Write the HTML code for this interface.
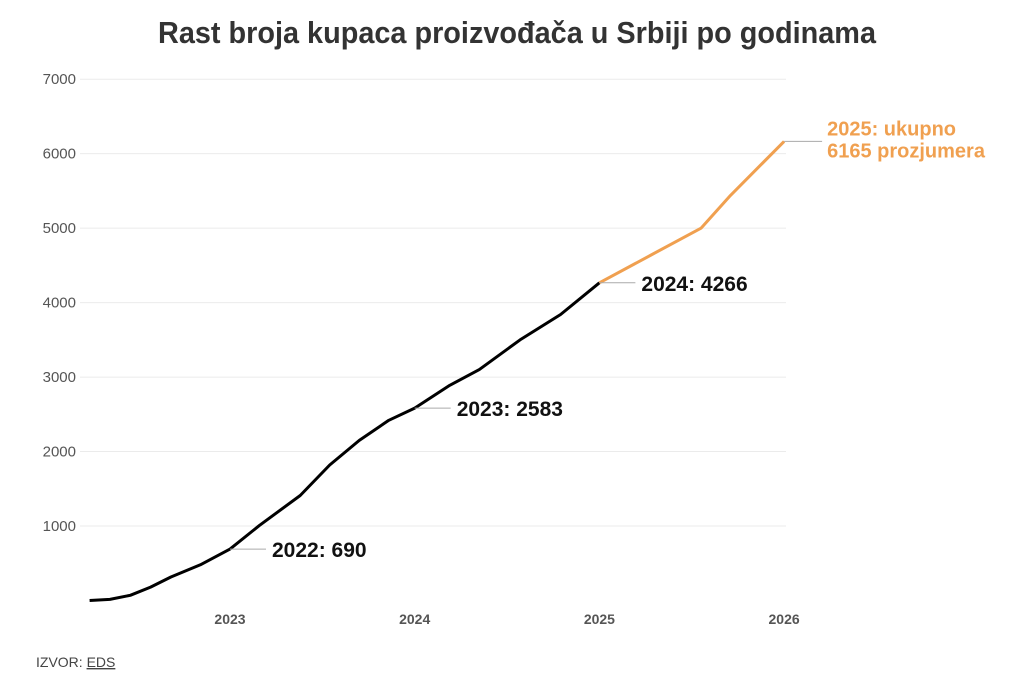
<!DOCTYPE html>
<html><head><meta charset="utf-8"><style>
body{margin:0;background:#fff;width:1024px;height:683px;overflow:hidden;font-family:"Liberation Sans Narrow","Liberation Sans",sans-serif;}
svg{display:block}
</style></head><body>
<svg width="1024" height="683">
<text x="158" y="43" textLength="718" lengthAdjust="spacingAndGlyphs" font-size="31" font-weight="bold" fill="#333">Rast broja kupaca proizvođača u Srbiji po godinama</text>
<g id="grid"></g><g id="marks"></g>
<text x="36" y="667" font-size="14" fill="#444" font-family="Liberation Sans, sans-serif">IZVOR: <tspan text-decoration="underline">EDS</tspan></text>
</svg>
<script>
const yTicks=[1000,2000,3000,4000,5000,6000,7000];
const xTicks=[2023,2024,2025,2026];
const blackX=[2022.24,2022.35,2022.46,2022.57,2022.68,2022.84,2023.0,2023.16,2023.38,2023.54,2023.70,2023.86,2024.0,2024.19,2024.35,2024.57,2024.79,2025.0];
const blackY=[0,15,70,180,315,480,690,1010,1410,1820,2150,2420,2583,2890,3100,3500,3840,4266];
const orangeX=[2025.0,2025.28,2025.55,2025.71,2025.87,2026.0];
const orangeY=[4266,4640,5000,5440,5840,6165];
const labels=[[2023.0,690,"2022: 690"],[2024.0,2583,"2023: 2583"],[2025.0,4266,"2024: 4266"]];
const ns="http://www.w3.org/2000/svg";
const xs=v=>230+(v-2023)*184.7, ys=v=>600.5-v*0.07447;
function mk(t,a,p){const e=document.createElementNS(ns,t);for(const k in a)e.setAttribute(k,a[k]);p.appendChild(e);return e;}
const g=document.getElementById('grid'),m=document.getElementById('marks');
yTicks.forEach(v=>{
 const l=mk('line',{x1:80,x2:786,y1:ys(v),y2:ys(v),stroke:'#ebebeb','stroke-width':1},g);
 
 
 const t=mk('text',{x:76,y:ys(v)+5,'text-anchor':'end','font-size':15,fill:'#555','font-family':'Liberation Sans, sans-serif'},g);t.textContent=v;
 
 
});
xTicks.forEach(v=>{
 const t=mk('text',{x:xs(v),y:624,'text-anchor':'middle','font-size':14,'font-weight':'bold',fill:'#555','font-family':'Liberation Sans, sans-serif'},g);t.textContent=v;
 
 
});
const pts=(X,Y)=>X.map((x,i)=>xs(x).toFixed(1)+','+ys(Y[i]).toFixed(1)).join(' ');
const bl=mk('polyline',{points:pts(blackX,blackY),fill:'none',stroke:'#000','stroke-width':3,'stroke-linejoin':'round'},m);


const ol=mk('polyline',{points:pts(orangeX,orangeY),fill:'none',stroke:'#f0a050','stroke-width':3,'stroke-linejoin':'round'},m);


labels.forEach(a=>{
 const x=xs(a[0]),y=ys(a[1]);
 const l=mk('line',{x1:x,x2:x+36,y1:y,y2:y,stroke:'#aaa','stroke-width':1},m);
 
 
 const t=mk('text',{x:x+42,y:y+8,'font-size':21,'font-weight':'bold',fill:'#111'},m);t.textContent=a[2];
 
 
});
const lx=xs(2026),ly=ys(6165);
const l2=mk('line',{x1:lx,x2:lx+38,y1:ly,y2:ly,stroke:'#aaa','stroke-width':1},m);


const t2=mk('text',{x:lx+43,y:ly-6,'font-size':20,'font-weight':'bold',fill:'#f0a050'},m);
t2.innerHTML='<tspan x="'+(lx+43)+'">2025: ukupno</tspan><tspan x="'+(lx+43)+'" dy="22">6165 prozjumera</tspan>';


</script>
</body></html>
